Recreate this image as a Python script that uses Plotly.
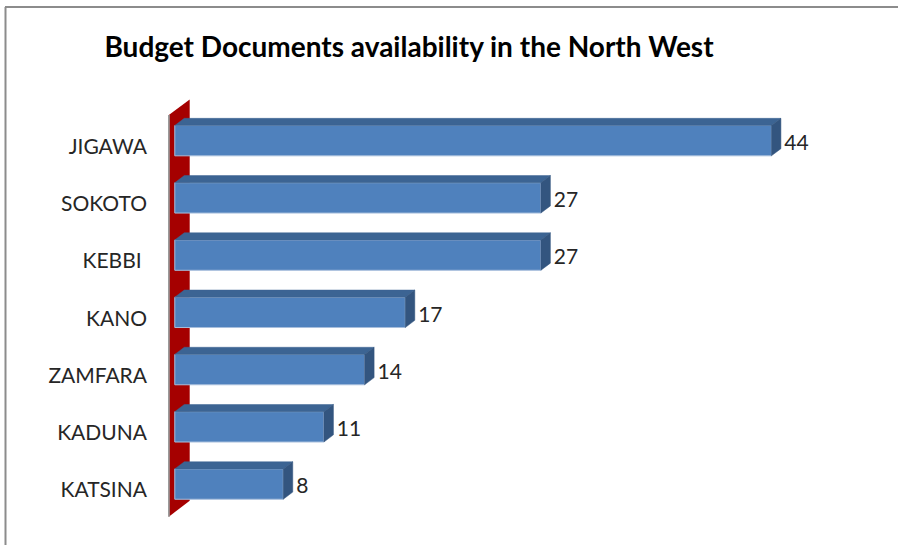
import plotly.graph_objects as go

# ---- data ----
states = ["KATSINA", "KADUNA", "ZAMFARA", "KANO", "KEBBI ", "SOKOTO", "JIGAWA"]
values = [8, 11, 14, 17, 27, 27, 44]
title_text = "Budget Documents availability in the North West"

# ---- styling / geometry ----
FIG_W, FIG_H = 898, 545
L, R, T, B = 168, 52, 92, 18
X_RANGE = [-0.5, 49.5]
Y_RANGE = [-0.75, 6.85]
BAR_W = 0.53          # category units
DX, DY = 0.70, 0.125  # 3D depth offset in data units

FRONT = "#4F81BD"
TOP = "#3C6493"
SIDE = "#33557F"
WALL = "#A50000"
FONT = "Lato"

pos = list(range(len(states)))

fig = go.Figure()

# front faces
fig.add_trace(go.Bar(
    x=values, y=pos, orientation="h", width=BAR_W,
    marker=dict(color=FRONT, line=dict(color="#A7BEDC", width=1)),
    hoverinfo="x+y", showlegend=False,
))

# top and side faces
tx, ty, sx, sy = [], [], [], []
for p, v in zip(pos, values):
    yt = p + BAR_W / 2
    yb = p - BAR_W / 2
    tx += [0, v, v + DX, DX, 0, None]
    ty += [yt, yt, yt + DY, yt + DY, yt, None]
    sx += [v, v + DX, v + DX, v, v, None]
    sy += [yb, yb + DY, yt + DY, yt, yb, None]
fig.add_trace(go.Scatter(x=tx, y=ty, fill="toself", fillcolor=TOP, mode="lines",
                         line=dict(color=TOP, width=0.5), hoverinfo="skip", showlegend=False))
fig.add_trace(go.Scatter(x=sx, y=sy, fill="toself", fillcolor=SIDE, mode="lines",
                         line=dict(color=SIDE, width=0.5), hoverinfo="skip", showlegend=False))

# value labels
fig.add_trace(go.Scatter(
    x=[v + DX + 0.25 for v in values], y=[p - 0.07 for p in pos], mode="text",
    text=[str(v) for v in values], textposition="middle right",
    textfont=dict(family=FONT, size=21, color="#262626"),
    hoverinfo="skip", showlegend=False,
))

# red wall (behind bars)
wx0, wx1 = -0.44, 1.1
wall_path = (f"M {wx0},{-0.57} L {wx0},{6.45} L {wx1},{6.72} "
             f"L {wx1},{-0.29} Z")
fig.add_shape(type="path", path=wall_path, xref="x", yref="y",
              fillcolor=WALL, line=dict(color=WALL, width=0), layer="below")
fig.add_shape(type="line", x0=wx0, x1=wx0, y0=-0.57, y1=6.45, xref="x", yref="y",
              line=dict(color="#9A9A9A", width=2), layer="below")

# chart border (top and left)
PW = FIG_W - L - R
PH = FIG_H - T - B
def px_x(px):
    return (px - L) / PW
def px_y(py):
    return 1 - (py - T) / PH
fig.add_shape(type="line", xref="paper", yref="paper",
              x0=px_x(5), x1=px_x(FIG_W + 5), y0=px_y(7), y1=px_y(7),
              line=dict(color="#8C8C8C", width=2))
fig.add_shape(type="line", xref="paper", yref="paper",
              x0=px_x(5.5), x1=px_x(5.5), y0=px_y(7), y1=px_y(FIG_H + 5),
              line=dict(color="#8C8C8C", width=2))

fig.update_layout(
    width=FIG_W, height=FIG_H,
    margin=dict(l=L, r=R, t=T, b=B),
    paper_bgcolor="white", plot_bgcolor="white",
    title=dict(text=f"<b>{title_text}</b>", x=409 / FIG_W, xanchor="center",
               y=1 - 47 / FIG_H, yanchor="middle", yref="container", xref="container",
               font=dict(family=FONT, size=28, color="#000000")),
    xaxis=dict(range=X_RANGE, visible=False, fixedrange=True),
    yaxis=dict(range=Y_RANGE, tickmode="array", tickvals=pos, ticktext=states,
               showgrid=False, zeroline=False, showline=False, ticks="",
               ticklabelstandoff=20, ticklabelshift=6,
               tickfont=dict(family=FONT, size=21, color="#262626"), fixedrange=True),
    bargap=0.3,
)

fig.write_html("out.html", config={"displayModeBar": False},
               post_script="document.body.style.margin='0';")
